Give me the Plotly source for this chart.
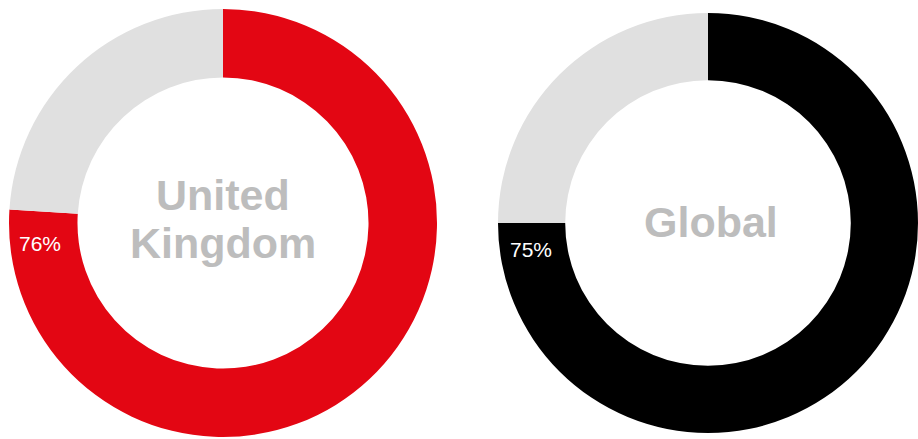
import plotly.graph_objects as go

W, H = 918, 439

# Data
regions = ["United Kingdom", "Global"]
agree_pct = [76, 75]
labels = ["Yes", "Other"]
pct_labels = ["76%", "75%"]
center_lines = [["United", "Kingdom"], ["Global"]]

colors = [["#e30613", "#e0e0e0"], ["#000000", "#e0e0e0"]]

domains = [
    dict(x=[9 / W, 437 / W], y=[1 - 437 / H, 1 - 9 / H]),
    dict(x=[498 / W, 1.0], y=[1 - 437 / H, 1 - 9 / H]),
]

fig = go.Figure()
for i, region in enumerate(regions):
    fig.add_trace(go.Pie(
        labels=labels,
        values=[agree_pct[i], 100 - agree_pct[i]],
        name=region,
        hole=0.68,
        sort=False,
        direction="clockwise",
        rotation=0,
        textinfo="none",
        hoverinfo="label+percent",
        marker=dict(colors=colors[i], line=dict(width=0)),
        domain=domains[i],
        showlegend=False,
    ))

annotations = []
# center titles
center_positions = [(223, [195, 243]), (711, [222])]
for i, lines in enumerate(center_lines):
    cx, ys = center_positions[i]
    for line, yy in zip(lines, ys):
        annotations.append(dict(
            text=f"<b>{line}</b>", x=cx / W, y=1 - yy / H,
            xref="paper", yref="paper", xanchor="center", yanchor="middle",
            showarrow=False,
            font=dict(family="Liberation Sans, Arial, sans-serif", size=43, color="#bdbdbd"),
        ))

# percent labels
pct_positions = [(40, 243.5), (531, 249)]
for (px, py), t in zip(pct_positions, pct_labels):
    annotations.append(dict(
        text=t, x=px / W, y=1 - py / H,
        xref="paper", yref="paper", xanchor="center", yanchor="middle",
        showarrow=False,
        font=dict(family="Liberation Sans, Arial, sans-serif", size=21, color="#ffffff"),
    ))

fig.update_layout(
    width=W, height=H,
    margin=dict(l=0, r=0, t=0, b=0),
    paper_bgcolor="#ffffff",
    plot_bgcolor="#ffffff",
    annotations=annotations,
)

fig.write_html("out.html")
